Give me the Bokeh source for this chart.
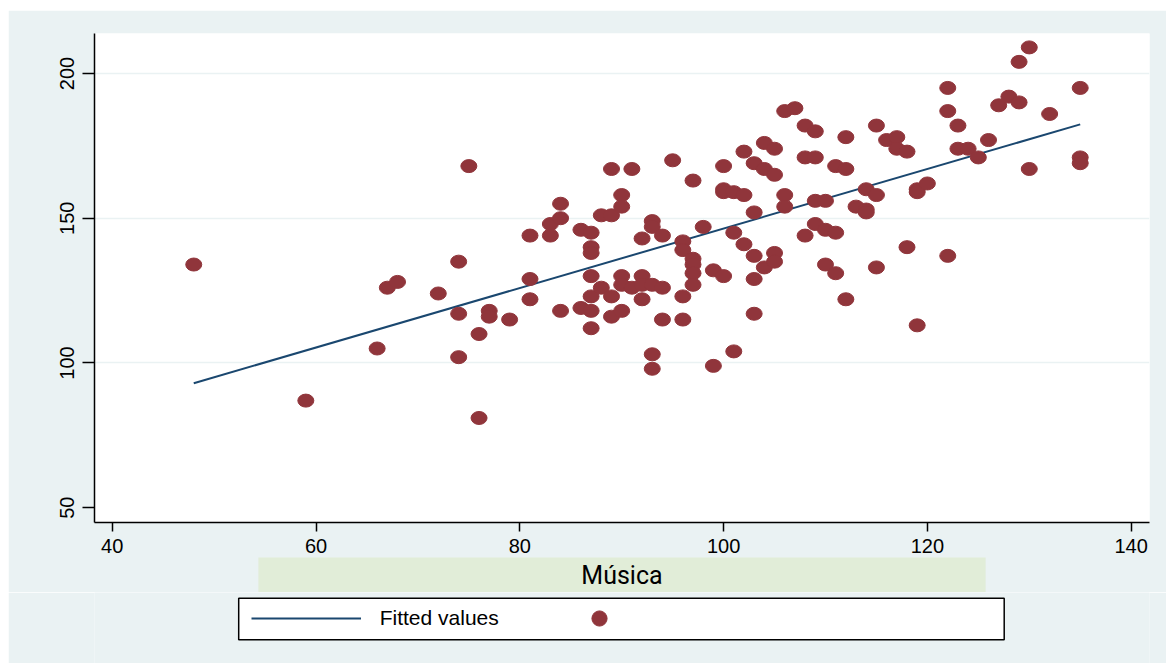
from bokeh.plotting import figure
from bokeh.layouts import column
from bokeh.models import (Range1d, FixedTicker, Legend, LegendItem, Title, BoxAnnotation)
from bokeh.embed import file_html
from bokeh.resources import INLINE

# ---------------- data ----------------
musica = [48, 59, 66, 67, 68, 72, 74, 74, 74, 75, 76, 76, 77, 77, 79,
          81, 81, 81, 83, 83, 84, 84, 84, 86, 86, 87, 87, 87, 87, 87, 87, 87, 88, 88,
          89, 89, 89, 89, 90, 90, 90, 90, 90, 91, 91, 92, 92, 92, 92, 93, 93, 93, 93, 93,
          94, 94, 94,
          95, 96, 96, 96, 96, 97, 97, 97, 97, 97, 98, 99, 99, 100, 100, 100, 100, 101, 101,
          101, 102, 102, 102, 103, 103, 103, 103, 103, 104, 104, 104, 105, 105, 105, 105,
          106, 106, 106, 107, 108, 108, 108, 109, 109, 109, 109, 110, 110, 110, 111, 111, 111,
          112, 112, 112, 113, 114, 114, 114, 115, 115, 115, 116, 117, 117, 118, 118, 119, 119,
          119, 120, 122, 122, 122, 123, 123, 124, 125, 126, 127, 128, 129, 129, 130, 130, 132,
          135, 135, 135]
valores = [134, 87, 105, 126, 128, 124, 135, 117, 102, 168, 110, 81, 118, 116, 115,
           144, 129, 122, 148, 144, 155, 150, 118, 146, 119, 145, 140, 138, 130, 123, 118, 112,
           151, 126, 167, 151, 123, 116, 158, 154, 130, 127, 118, 167, 126, 143, 130, 127, 122,
           149, 147, 127, 103, 98, 144, 126, 115,
           170, 142, 139, 123, 115, 163, 136, 134, 131, 127, 147, 132, 99, 168, 160, 159, 130,
           159, 145, 104, 173, 158, 141, 169, 152, 137, 129, 117, 176, 167, 133, 174, 165, 138,
           135, 187, 158, 154, 188, 182, 171, 144, 180, 171, 156, 148, 156, 146, 134, 168, 145,
           131,
           178, 167, 122, 154, 160, 153, 152, 182, 158, 133, 177, 178, 174, 173, 140, 160, 159,
           113, 162, 195, 187, 137, 182, 174, 174, 171, 177, 189, 192, 204, 190, 209, 167, 186,
           195, 171, 169]

fit_x = [48, 135]
fit_y = [93.0, 182.4]

x_ticks = [40, 60, 80, 100, 120, 140]
y_ticks = [50, 100, 150, 200]
y_grid = [100, 150, 200]
x_title = "Música"
fit_label = "Fitted values"

# ---------------- styles ----------------
BG = "#EAF2F3"
LINE_COL = "#1A476F"
DOT_COL = "#90353B"
GREEN = "#E1EDD8"
TICK_FONT = "Liberation Sans"
FRAME_W, FRAME_H = 1055, 489

# ================= main chart =================
p = figure(frame_width=FRAME_W, frame_height=FRAME_H, output_backend="svg",
           toolbar_location=None,
           x_range=Range1d(38.26, 141.8), y_range=Range1d(44.9, 213.8),
           min_border_left=86, min_border_right=17, min_border_top=23,
           min_border_bottom=10)
p.margin = (10, 0, 0, 8)
p.background_fill_color = "white"
p.border_fill_color = BG
p.outline_line_color = None

p.xgrid.visible = False
p.ygrid.ticker = FixedTicker(ticks=y_grid)
p.ygrid.grid_line_color = BG
p.ygrid.grid_line_width = 1.5

p.xaxis.ticker = FixedTicker(ticks=x_ticks)
p.yaxis.ticker = FixedTicker(ticks=y_ticks)
for ax in (p.xaxis[0], p.yaxis[0]):
    ax.axis_line_color = "black"
    ax.axis_line_width = 1.5
    ax.major_tick_line_color = "black"
    ax.major_tick_line_width = 1.5
    ax.major_tick_in = 0
    ax.minor_tick_line_color = None
    ax.major_label_text_font = TICK_FONT
    ax.major_label_text_font_size = "20px"
    ax.major_label_text_color = "black"
p.xaxis.major_tick_out = 9
p.yaxis.major_tick_out = 12
p.xaxis.major_label_standoff = 7
p.yaxis.major_label_standoff = 8
p.yaxis.major_label_orientation = "vertical"

# x title, drawn below the axis with its light green box
xt = Title(text=x_title, align="center", text_font="Roboto", text_font_size="25px",
           text_font_style="normal", text_color="black", standoff=0,
           background_fill_color=GREEN, background_fill_alpha=1.0)
for pad in (dict(left=323, right=323, top=3, bottom=3), (323, 323, 3, 3), 3):
    try:
        xt.padding = pad
        break
    except Exception:
        continue
p.add_layout(xt, "below")

fit_r = p.line(fit_x, fit_y, line_color=LINE_COL, line_width=2)
pts_r = p.ellipse(x=musica, y=valores, width=16, height=13,
                  width_units="screen", height_units="screen",
                  fill_color=DOT_COL, line_color=DOT_COL)

# ================= legend strip (frame aligned with the chart frame) =================
LH = 71
q = figure(width=1158, height=LH, output_backend="svg", toolbar_location=None,
           x_range=Range1d(0, FRAME_W), y_range=Range1d(0, LH),
           x_axis_type=None, y_axis_type=None,
           min_border_left=0, min_border_right=0, min_border_top=0, min_border_bottom=0)
q.margin = (0, 0, 0, 8)
q.background_fill_color = BG
q.border_fill_color = BG
q.outline_line_color = None
q.grid.visible = False

q.add_layout(BoxAnnotation(left=144.2, right=909.7, bottom=23.7, top=65.3,
                           fill_color="white", fill_alpha=1.0,
                           line_color="black", line_width=1.5, line_alpha=1.0,
                           level="underlay"))

# hidden copies of the two series, used only for the legend keys
key_line = q.line(fit_x, fit_y, line_color=LINE_COL, line_width=2, visible=False)
key_dot = q.scatter(musica, valores, marker="circle", size=15,
                    fill_color=DOT_COL, line_color=DOT_COL, visible=False)

key = Legend(items=[LegendItem(label=fit_label, renderers=[key_line]),
                    LegendItem(label="", renderers=[key_dot])],
             location=(156.7, 26), orientation="horizontal",
             padding=0, spacing=45, margin=0,
             glyph_width=110, glyph_height=38, label_height=20, label_width=20,
             label_standoff=19,
             border_line_alpha=0, background_fill_alpha=0,
             label_text_font=TICK_FONT, label_text_font_size="21px",
             label_text_color="black")
q.add_layout(key)

open("out.html", "w").write(file_html(column(p, q), INLINE))
